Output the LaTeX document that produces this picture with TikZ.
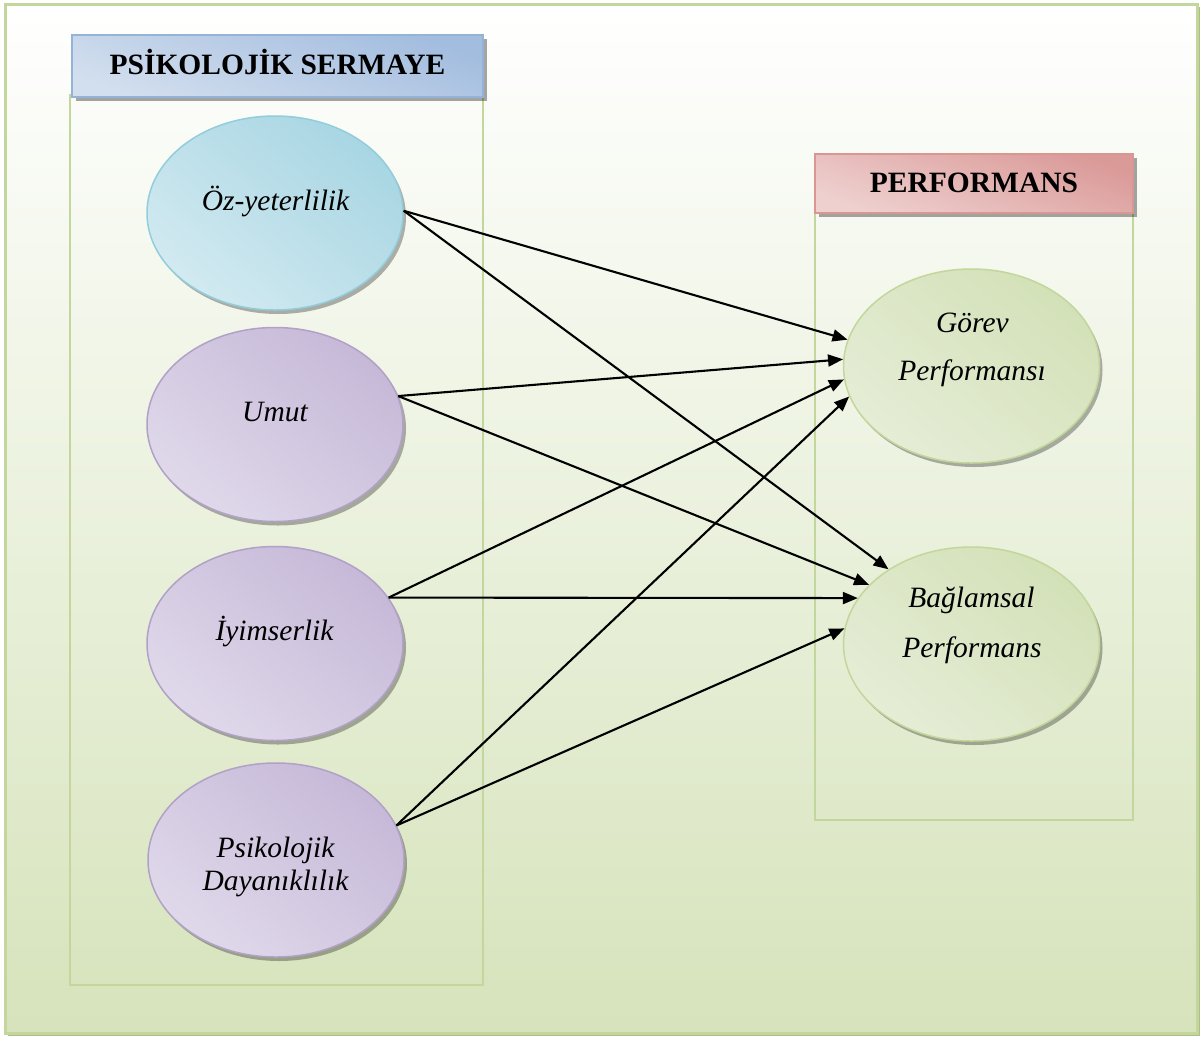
\documentclass[tikz,border=0pt]{standalone}
\usepackage{fontspec}
\setmainfont{Liberation Serif}
\usetikzlibrary{shapes.geometric,shadows,arrows.meta}

\definecolor{frameline}{HTML}{C3D69B}
\definecolor{frameshade}{HTML}{AEBE88}
\definecolor{bgbottom}{HTML}{D6E3BB}
\definecolor{blueedge}{HTML}{95B3D7}
\definecolor{bluedark}{HTML}{A3BDDF}
\definecolor{bluelight}{HTML}{DEE7F2}
\definecolor{pinkedge}{HTML}{D99694}
\definecolor{pinkdark}{HTML}{DA9A98}
\definecolor{pinklight}{HTML}{F3DEDD}
\definecolor{cyanedge}{HTML}{92CDDC}
\definecolor{cyandark}{HTML}{A8D6E3}
\definecolor{cyanlight}{HTML}{E0F0F5}
\definecolor{lilacedge}{HTML}{B2A1C7}
\definecolor{lilacdark}{HTML}{C6B9D8}
\definecolor{lilaclight}{HTML}{E8E3F0}
\definecolor{sageedge}{HTML}{C3D69B}
\definecolor{sagedark}{HTML}{D3E1B8}
\definecolor{sagelight}{HTML}{EDF2E3}

\tikzset{
  panel/.style={draw=frameline, line width=2pt},
  header/.style={rectangle, inner sep=0pt, line width=1.5pt,
    text height=24pt, text depth=7pt,
    font=\fontsize{29.5}{34}\selectfont\bfseries,
    drop shadow={shadow xshift=4pt, shadow yshift=-4pt, fill=black, opacity=0.35}},
  bluehead/.style={header, draw=blueedge, top color=bluedark,
    middle color=bluelight, bottom color=bluelight!80!bluedark, shading angle=-20},
  pinkhead/.style={header, draw=pinkedge, top color=pinkdark,
    middle color=pinklight, bottom color=pinklight!80!pinkdark, shading angle=-20},
  oval/.style={ellipse, minimum width=256pt, minimum height=194pt, inner sep=0pt,
    line width=1.5pt,
    drop shadow={shadow xshift=3pt, shadow yshift=-4pt, fill=black, opacity=0.3}},
  cyanoval/.style={oval, draw=cyanedge, top color=cyandark,
    middle color=cyanlight, bottom color=cyanlight!75!cyandark, shading angle=-40},
  lilacoval/.style={oval, draw=lilacedge, top color=lilacdark,
    middle color=lilaclight, bottom color=lilaclight!75!lilacdark, shading angle=-40},
  sageoval/.style={oval, draw=sageedge, top color=sagedark,
    middle color=sagelight, bottom color=sagelight!70!sagedark, shading angle=-40},
  label/.style={anchor=base, inner sep=0pt,
    font=\fontsize{29.5}{34}\selectfont\itshape},
  link/.style={line width=2.1pt, -{Triangle[length=15pt,width=12pt]}}
}

\begin{document}
\begin{tikzpicture}[x=1pt,y=-1pt]
\useasboundingbox (0,0) rectangle (1203,1037);

% outer frame with its shadow and vertical gradient
\fill[frameshade] (8,7) rectangle (1200,1036);
\path[draw=frameline, line width=3pt, top color=white, bottom color=bgbottom]
  (5,4) rectangle (1197,1033);

% the two group panels
\draw[panel] (70,95) rectangle (483,985);
\draw[panel] (815,213) rectangle (1133,820);

% group headers
\node[bluehead, minimum width=411pt, minimum height=62pt] (hpsy) at (277.5,66)
  {PSİKOLOJİK SERMAYE};
\node[pinkhead, minimum width=318pt, minimum height=59pt] (hperf) at (974,183.5)
  {PERFORMANS};

% psychological capital components
\node[cyanoval]  (oz)    at (275,213)   {};
\node[lilacoval] (umut)  at (275,424.5) {};
\node[lilacoval] (iyim)  at (275,643.5) {};
\node[lilacoval] (dayan) at (276,860)   {};

% performance components
\node[sageoval] (gorev) at (971.5,366) {};
\node[sageoval] (bag)   at (971.5,644) {};

% texts
\node[label] (tOz)    at (275.5,210) {Öz-yeterlilik};
\node[label] (tUmut)  at (275,421)   {Umut};
\node[label] (tIyim)  at (274.5,640) {İyimserlik};
\node[label] (tDay1)  at (275.5,857) {Psikolojik};
\node[label] (tDay2)  at (275.5,890) {Dayanıklılık};
\node[label] (tGor1)  at (972.5,332) {Görev};
\node[label] (tGor2)  at (972,380)   {Performansı};
\node[label] (tBag1)  at (971.5,607) {Bağlamsal};
\node[label] (tBag2)  at (972,657)   {Performans};

% effects
\draw[link] (oz.1)      -- (gorev.168);
\draw[link] (oz.1)      -- (bag.138.3);
\draw[link] (umut.13.5) -- (gorev.177.3);
\draw[link] (umut.13.5) -- (bag.150);
\draw[link] (iyim.22.1) -- (gorev.186.3);
\draw[link] (iyim.22.1) -- (bag.158);
\draw[link] (dayan.16.8) -- (gorev.194);
\draw[link] (dayan.16.8) -- (bag.173.7);
\end{tikzpicture}
\end{document}
